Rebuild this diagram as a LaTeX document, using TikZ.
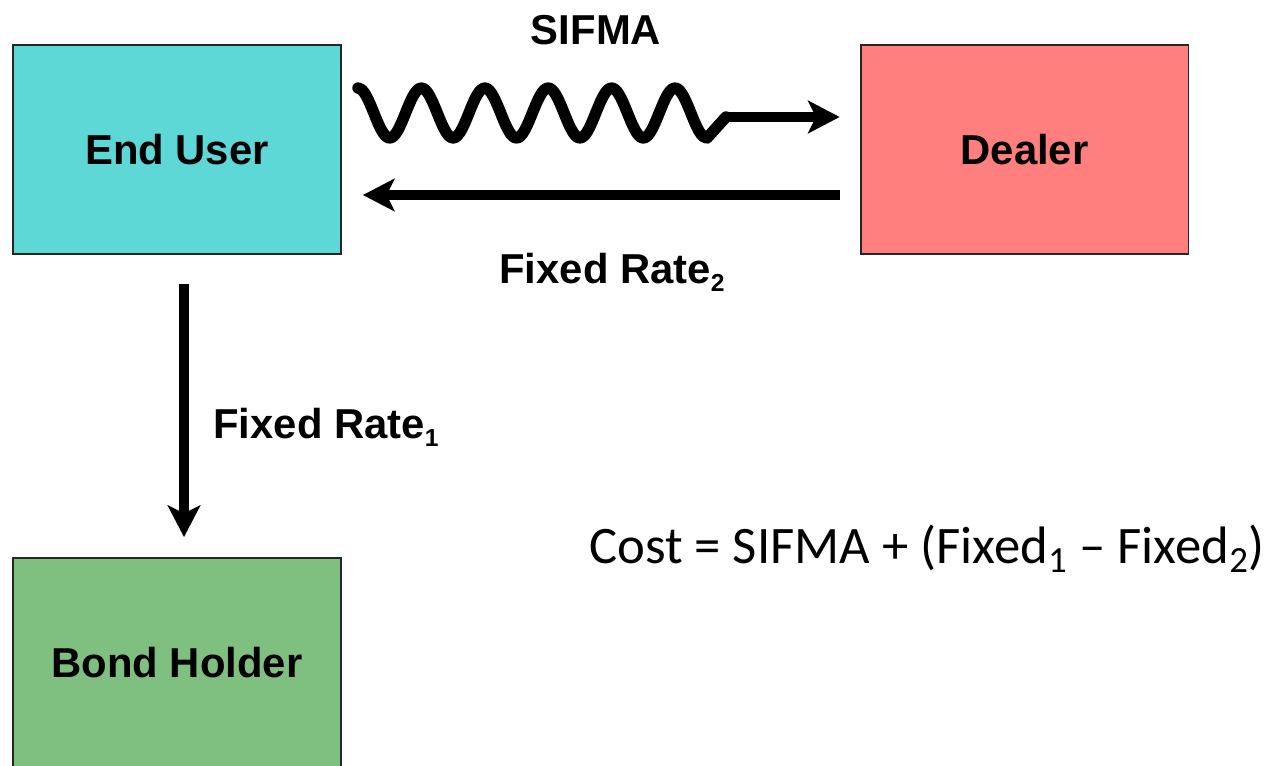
\documentclass[tikz,border=0pt]{standalone}
\usepackage{fontspec}
\setmainfont{Liberation Sans}
\newfontfamily\costfont{Carlito}
\usetikzlibrary{arrows.meta,calc}
\definecolor{usercyan}{RGB}{94,216,214}
\definecolor{dealerred}{RGB}{255,127,127}
\definecolor{holdergreen}{RGB}{127,191,127}
\newcommand{\ratesub}[1]{\raisebox{-4.5pt}{\fontsize{14}{14}\selectfont #1}}

\tikzset{
  party/.style={draw=black!85,line width=1.1pt,minimum width=6.56cm,
    minimum height=4.18cm,inner sep=0pt,
    font=\fontsize{23.8}{28}\selectfont\bfseries},
  flow/.style={line width=5.5pt,
    -{Stealth[length=18pt,width=18.5pt,inset=4.5pt]}},
  wave/.style={line width=6.5pt,line cap=round,line join=round},
  lbl/.style={font=\fontsize{23.8}{28}\selectfont\bfseries,inner sep=0pt}
}

\begin{document}
\begin{tikzpicture}[x=0.02cm,y=-0.02cm]
    \useasboundingbox (0,0) rectangle (1274,765);
    \clip (0,0) rectangle (1274,765);

    % Parties
    \node[party,fill=usercyan]    (user)   at (177,149.5)  {End User};
    \node[party,fill=dealerred]   (dealer) at (1024.5,149.5) {Dealer};
    \node[party,fill=holdergreen] (holder) at (177,662.5)  {Bond Holder};

    % Floating leg: wavy line, then arrow into dealer
    \coordinate (wstart) at (358,113);
    \coordinate (wend)   at (726,117);
    \draw[wave,shift={(wstart)}]
      plot[domain=0:349,samples=90,smooth] (\x,{-25*cos(5.678*\x)})
      -- (368,4);
    \draw[flow,shorten >=11.3pt] (wend) -- (wend -| dealer.west);
    \node[lbl] (sifma) at (596,30) {SIFMA};

    % Fixed leg back to end user
    \draw[flow] ([shift={(-20,45.5)}]dealer.west)
      -- ([shift={(21,45.5)}]user.east);
    \node[lbl] (fix2) at (612,272) {Fixed Rate\ratesub{2}};

    % Bond coupon
    \draw[flow] ([shift={(7,29)}]user.south)
      -- ([shift={(7,-20)}]holder.north);
    \node[lbl,anchor=west] (fix1) at (213,427) {Fixed Rate\ratesub{1}};

    % Cost formula
    \node[anchor=west,inner sep=0pt,font=\costfont\fontsize{30}{36}\selectfont]
      (cost) at (589,549)
      {Cost = SIFMA + (Fixed\textsubscript{1} – Fixed\textsubscript{2})};
  \end{tikzpicture}
\end{document}
